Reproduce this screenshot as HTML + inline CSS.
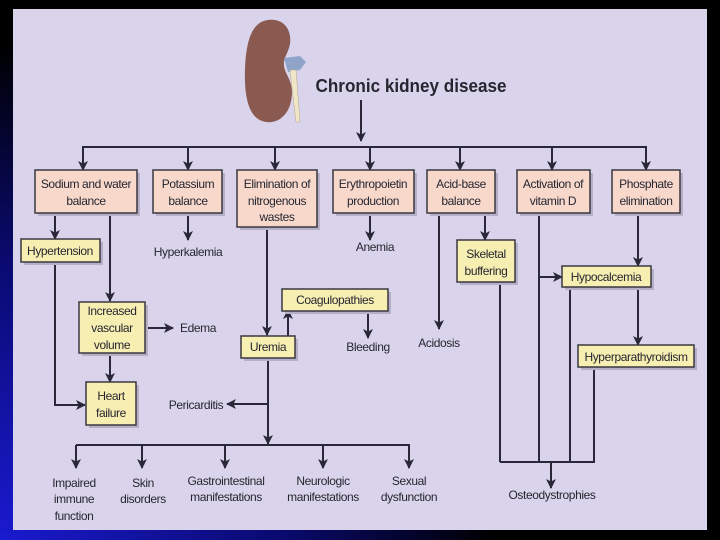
<!DOCTYPE html>
<html><head><meta charset="utf-8"><style>
html,body{margin:0;padding:0;width:720px;height:540px;overflow:hidden;background:#000}
svg{display:block}
text{font-family:"Liberation Sans",sans-serif;font-size:12px;fill:#262630;text-anchor:middle;letter-spacing:-0.4px}
</style></head><body>
<svg width="720" height="540" viewBox="0 0 720 540" xmlns="http://www.w3.org/2000/svg">
<defs>
<radialGradient id="bg" cx="0" cy="540" r="620" gradientUnits="userSpaceOnUse">
<stop offset="0" stop-color="#1a1ad0"/><stop offset="0.45" stop-color="#0a0a70"/><stop offset="0.8" stop-color="#000"/>
</radialGradient>
<marker id="a" markerWidth="10" markerHeight="10" refX="9" refY="5" orient="auto" markerUnits="userSpaceOnUse">
<path d="M0,0 L10,5 L0,10 L2.5,5 z" fill="#2a2838"/></marker>
</defs>
<rect width="720" height="540" fill="url(#bg)"/>
<rect x="13" y="9" width="694" height="521" fill="#d9d4eb"/>
<!-- kidney -->
<path d="M268,20 C284,18 292,30 290,44 C288,54 283,58 284,66 C285,74 292,80 292,92 C292,112 280,124 266,122 C250,120 244,100 245,70 C246,40 252,22 268,20 z" fill="#8a5a50"/>
<path d="M284,58 L300,56 L306,62 L300,70 L288,72 z" fill="#8fa4c8"/>
<path d="M290,70 L296,70 L300,122 L296,122 z" fill="#efe6c8" stroke="#b8a888" stroke-width="0.5"/>
<text x="411" y="92" style="font-size:18px;font-weight:bold;letter-spacing:0" textLength="191" lengthAdjust="spacingAndGlyphs">Chronic kidney disease</text>
<g stroke="#2a2838" stroke-width="2" fill="none">
<line x1="361" y1="100" x2="361" y2="141" marker-end="url(#a)"/>
<line x1="82" y1="147" x2="647" y2="147"/>
<line x1="83" y1="147" x2="83" y2="170" marker-end="url(#a)"/>
<line x1="188" y1="147" x2="188" y2="170" marker-end="url(#a)"/>
<line x1="275" y1="147" x2="275" y2="170" marker-end="url(#a)"/>
<line x1="370" y1="147" x2="370" y2="170" marker-end="url(#a)"/>
<line x1="460" y1="147" x2="460" y2="170" marker-end="url(#a)"/>
<line x1="552" y1="147" x2="552" y2="170" marker-end="url(#a)"/>
<line x1="646" y1="147" x2="646" y2="170" marker-end="url(#a)"/>
<line x1="55" y1="213" x2="55" y2="239" marker-end="url(#a)"/>
<polyline points="55,262 55,405 85,405" marker-end="url(#a)"/>
<line x1="110" y1="213" x2="110" y2="301" marker-end="url(#a)"/>
<line x1="145" y1="328" x2="173" y2="328" marker-end="url(#a)"/>
<line x1="110" y1="353" x2="110" y2="382" marker-end="url(#a)"/>
<line x1="188" y1="213" x2="188" y2="240" marker-end="url(#a)"/>
<line x1="267" y1="227" x2="267" y2="335" marker-end="url(#a)"/>
<line x1="288" y1="336" x2="288" y2="310" marker-end="url(#a)"/>
<line x1="368" y1="311" x2="368" y2="338" marker-end="url(#a)"/>
<line x1="268" y1="358" x2="268" y2="444" marker-end="url(#a)"/>
<line x1="268" y1="404" x2="227" y2="404" marker-end="url(#a)"/>
<line x1="76" y1="445" x2="410" y2="445"/>
<line x1="76" y1="445" x2="76" y2="468" marker-end="url(#a)"/>
<line x1="142" y1="445" x2="142" y2="468" marker-end="url(#a)"/>
<line x1="225" y1="445" x2="225" y2="468" marker-end="url(#a)"/>
<line x1="323" y1="445" x2="323" y2="468" marker-end="url(#a)"/>
<line x1="409" y1="445" x2="409" y2="468" marker-end="url(#a)"/>
<line x1="370" y1="213" x2="370" y2="240" marker-end="url(#a)"/>
<line x1="439" y1="213" x2="439" y2="329" marker-end="url(#a)"/>
<line x1="485" y1="213" x2="485" y2="240" marker-end="url(#a)"/>
<line x1="500" y1="282" x2="500" y2="462"/>
<line x1="539" y1="213" x2="539" y2="462"/>
<line x1="539" y1="277" x2="562" y2="277" marker-end="url(#a)"/>
<line x1="570" y1="287" x2="570" y2="462"/>
<line x1="638" y1="213" x2="638" y2="266" marker-end="url(#a)"/>
<line x1="638" y1="287" x2="638" y2="345" marker-end="url(#a)"/>
<line x1="594" y1="367" x2="594" y2="462"/>
<line x1="500" y1="462" x2="595" y2="462"/>
<line x1="551" y1="462" x2="551" y2="488" marker-end="url(#a)"/>
</g>
<g fill="#b5b0c6">
<rect x="38" y="173" width="102" height="43"/><rect x="156" y="173" width="69" height="43"/>
<rect x="240" y="173" width="80" height="57"/><rect x="336" y="173" width="81" height="43"/>
<rect x="430" y="173" width="68" height="43"/><rect x="520" y="173" width="73" height="43"/>
<rect x="615" y="173" width="68" height="43"/>
<rect x="24" y="242" width="79" height="23"/><rect x="82" y="305" width="66" height="51"/>
<rect x="89" y="385" width="50" height="43"/><rect x="244" y="339" width="54" height="22"/>
<rect x="285" y="292" width="106" height="22"/><rect x="460" y="243" width="58" height="42"/>
<rect x="565" y="269" width="89" height="21"/><rect x="581" y="348" width="116" height="22"/>
</g>
<g stroke="#3a3640" stroke-width="1.5">
<g fill="#f7d8cb">
<rect x="35" y="170" width="102" height="43"/>
<rect x="153" y="170" width="69" height="43"/>
<rect x="237" y="170" width="80" height="57"/>
<rect x="333" y="170" width="81" height="43"/>
<rect x="427" y="170" width="68" height="43"/>
<rect x="517" y="170" width="73" height="43"/>
<rect x="612" y="170" width="68" height="43"/>
</g>
<g fill="#f7eeb2">
<rect x="21" y="239" width="79" height="23"/>
<rect x="79" y="302" width="66" height="51"/>
<rect x="86" y="382" width="50" height="43"/>
<rect x="241" y="336" width="54" height="22"/>
<rect x="282" y="289" width="106" height="22"/>
<rect x="457" y="240" width="58" height="42"/>
<rect x="562" y="266" width="89" height="21"/>
<rect x="578" y="345" width="116" height="22"/>
</g>
</g>
<text x="86" y="188">Sodium and water</text><text x="86" y="205">balance</text>
<text x="188" y="188">Potassium</text><text x="188" y="205">balance</text>
<text x="277" y="188">Elimination of</text><text x="277" y="205">nitrogenous</text><text x="277" y="221">wastes</text>
<text x="373" y="188">Erythropoietin</text><text x="373" y="205">production</text>
<text x="461" y="188">Acid-base</text><text x="461" y="205">balance</text>
<text x="553" y="188">Activation of</text><text x="553" y="205">vitamin D</text>
<text x="646" y="188">Phosphate</text><text x="646" y="205">elimination</text>
<text x="60" y="255">Hypertension</text>
<text x="188" y="256">Hyperkalemia</text>
<text x="375" y="251">Anemia</text>
<text x="486" y="258">Skeletal</text><text x="486" y="275">buffering</text>
<text x="606" y="281">Hypocalcemia</text>
<text x="636" y="361">Hyperparathyroidism</text>
<text x="335" y="304">Coagulopathies</text>
<text x="368" y="351">Bleeding</text>
<text x="439" y="347">Acidosis</text>
<text x="112" y="315">Increased</text><text x="112" y="332">vascular</text><text x="112" y="349">volume</text>
<text x="198" y="332">Edema</text>
<text x="111" y="400">Heart</text><text x="111" y="417">failure</text>
<text x="268" y="351">Uremia</text>
<text x="196" y="409">Pericarditis</text>
<text x="74" y="487">Impaired</text><text x="74" y="503">immune</text><text x="74" y="520">function</text>
<text x="143" y="487">Skin</text><text x="143" y="503">disorders</text>
<text x="226" y="485">Gastrointestinal</text><text x="226" y="501">manifestations</text>
<text x="323" y="485">Neurologic</text><text x="323" y="501">manifestations</text>
<text x="409" y="485">Sexual</text><text x="409" y="501">dysfunction</text>
<text x="552" y="499">Osteodystrophies</text>
</svg>
</body></html>
